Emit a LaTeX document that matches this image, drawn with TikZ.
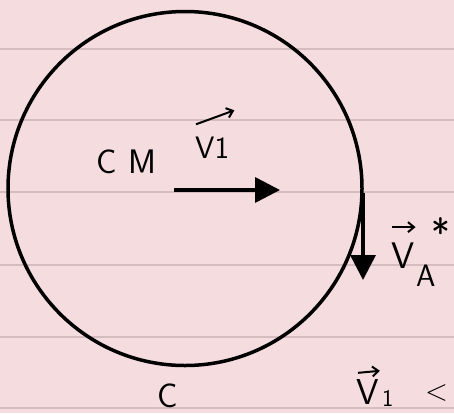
\documentclass[tikz,border=0pt]{standalone}
\usetikzlibrary{arrows.meta}
\definecolor{paper}{RGB}{245,220,222}
\definecolor{rulecol}{RGB}{212,188,191}
\begin{document}
\begin{tikzpicture}[x=1pt,y=-1pt,
  vec/.style={line width=3.6pt,-{Triangle[length=25pt,width=25pt]}},
  overarrow/.style={line width=2pt,-{Straight Barb[length=6pt,width=10pt]}},
  hand/.style={font=\sffamily\fontsize{#1}{#1}\selectfont, inner sep=0pt},
  hand/.default=30,
  ruled/.style={draw=rulecol,line width=2pt}]
\useasboundingbox (0,0) rectangle (454,413);
\clip (0,0) rectangle (454,413);
\fill[paper] (0,0) rectangle (454,413);
\foreach \y in {48.5,120,192,265,337,408} \draw[ruled] (0,\y) -- (454,\y);
% wheel
\node[draw, circle, line width=3.5pt, minimum size=354pt, inner sep=0pt] (wheel) at (185,188.5) {};
% velocity of the centre of mass
\coordinate (cm) at (174,190);
\coordinate (v1tip) at (280,190);
\draw[vec] (cm) -- (v1tip);
% velocity at A
\coordinate (A) at (363,193);
\coordinate (vAtip) at (363,280);
\draw[vec] (A) -- (vAtip);
% labels
\node[hand=34, anchor=base west] (cmlabel) at (96,173) {C\hspace{12pt}M};
\node[hand=31, anchor=base west] (v1label) at (195,158) {V1};
\draw[overarrow] ([shift={(1,-12)}]v1label.north west) -- ([shift={(5,-26)}]v1label.north east);
\node[hand=37, anchor=base west] (vAlabel) at (391,268) {V};
\node[hand=31, anchor=base west] (vAsub) at (416,286) {A};
\node[hand=40, anchor=center] (vAstar) at (441,233) {*};
\draw[overarrow] ([shift={(1,-15)}]vAlabel.north west) -- ([shift={(1,-15)}]vAlabel.north east);
\node[hand=34, anchor=base west] (clabel) at (157,407) {C};
\node[hand=36, anchor=base west] (v1bot) at (356,404) {V};
\node[hand=24, anchor=base west] (v1botsub) at (382,406) {1};
\draw[overarrow] ([shift={(2,-6)}]v1bot.north west) -- ([shift={(1,-8)}]v1bot.north east);
\node[hand=30, anchor=base west] (ltsign) at (425,400) {<};
\end{tikzpicture}
\end{document}
